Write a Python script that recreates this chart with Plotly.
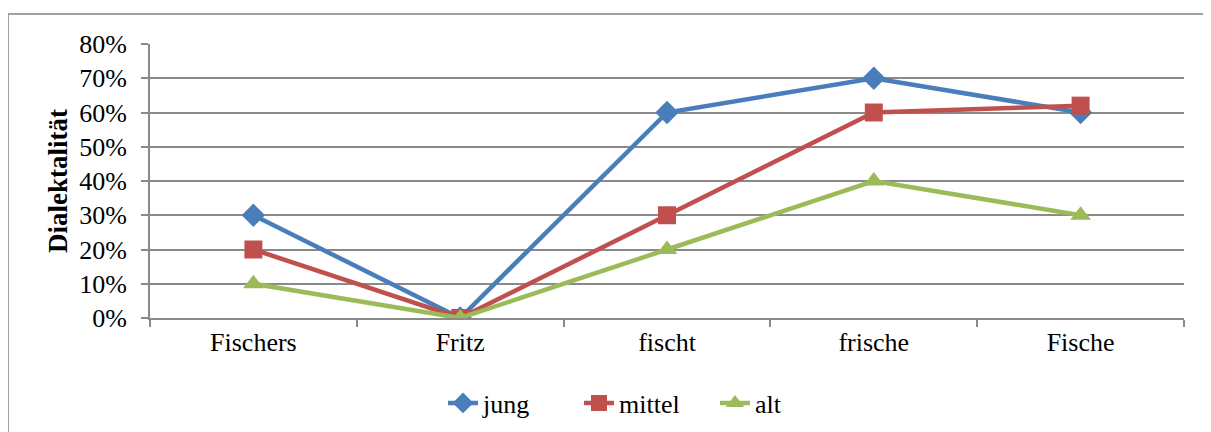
import plotly.graph_objects as go

categories = ["Fischers", "Fritz", "fischt", "frische", "Fische"]
jung = [0.30, 0.00, 0.60, 0.70, 0.60]
mittel = [0.20, 0.00, 0.30, 0.60, 0.62]
alt = [0.10, 0.00, 0.20, 0.40, 0.30]
y_ticks = [0, 0.1, 0.2, 0.3, 0.4, 0.5, 0.6, 0.7, 0.8]
y_ticktext = ["0%", "10%", "20%", "30%", "40%", "50%", "60%", "70%", "80%"]

FONT = "Liberation Serif"
fig = go.Figure()
series = [
    ("jung", jung, "#4A7EBB", "diamond", 18),
    ("mittel", mittel, "#C0504D", "square", 18),
    ("alt", alt, "#9BBB59", "triangle-up", 18),
]
for name, vals, col, sym, size in series:
    fig.add_trace(go.Scatter(
        x=categories, y=vals, name=name, mode="lines+markers",
        line=dict(color=col, width=4.5),
        marker=dict(symbol=sym, size=size, color=col),
    ))

OFF = 8  # body margin of the page
W, H = 1211, 432
# plot area in page pixels: x 150..1184, y 44..318
L, T = 150 - OFF, 44 - OFF
R = W - (1184 - OFF)
B = H - (318 - OFF)
pw, ph = W - L - R, H - T - B

def px(x):
    return (x - OFF - L) / pw

def py(y):
    return (T + ph - (y - OFF)) / ph

border = dict(color="#a0a0a0", width=2)
fig.update_layout(
    width=W, height=H,
    margin=dict(l=L, r=R, t=T, b=B, autoexpand=False),
    paper_bgcolor="white", plot_bgcolor="white",
    font=dict(family=FONT, size=26, color="black"),
    showlegend=True,
    legend=dict(orientation="h", x=px(443), y=py(403), xanchor="left", yanchor="middle",
                font=dict(family=FONT, size=26), entrywidth=91, tracegroupgap=0,
                bgcolor="rgba(0,0,0,0)"),
    xaxis=dict(type="category", showgrid=False, showline=True, linecolor="#8a8a8a", linewidth=2,
               ticks="outside", tickson="boundaries", ticklen=7, tickcolor="#8a8a8a", tickwidth=2,
               tickfont=dict(family=FONT, size=26), range=[-0.5, 4.5], zeroline=False,
               automargin=False),
    yaxis=dict(range=[0, 0.8], tickvals=y_ticks, ticktext=y_ticktext, showgrid=True,
               gridcolor="#8a8a8a", gridwidth=1.5, showline=True, linecolor="#8a8a8a", linewidth=2,
               ticks="outside", ticklen=7, tickcolor="#8a8a8a", tickwidth=2,
               ticklabelstandoff=9, zeroline=False, automargin=False,
               tickfont=dict(family=FONT, size=26),
               title=dict(text="<b>Dialektalität</b>", font=dict(family=FONT, size=27), standoff=4)),
    shapes=[
        dict(type="line", xref="paper", yref="paper", x0=px(8), x1=px(1230), y0=py(14), y1=py(14), line=border, layer="below"),
        dict(type="line", xref="paper", yref="paper", x0=px(8), x1=px(8), y0=py(14), y1=py(450), line=border, layer="below"),
    ],
)
fig.write_html("out.html")
